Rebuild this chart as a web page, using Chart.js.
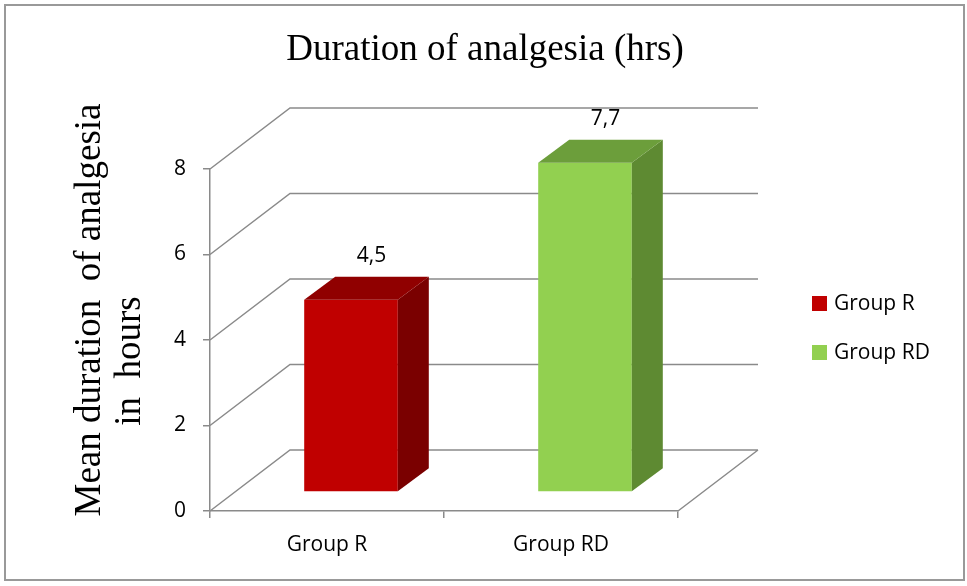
<!DOCTYPE html>
<html>
<head>
<meta charset="utf-8">
<script src="https://cdn.jsdelivr.net/npm/chart.js@4"></script>
<style>
  html, body { margin: 0; padding: 0; background: #fff; }
  #wrap { width: 967px; height: 586px; }
</style>
</head>
<body>
<div id="wrap"><canvas id="myChart"></canvas></div>
<script>
const categories = ['Group R', 'Group RD'];
const durations = [4.5, 7.7];
const tickValues = [0, 2, 4, 6, 8];

const frontColors = ['#C00000', '#92D050'];
const topColors = ['#900000', '#6C9E3B'];
const sideColors = ['#7A0000', '#5E8A32'];

// 3d offsets: full depth of the box, where the bar front sits, and bar depth
const wall = { dx: 80, dy: -61 };
const barShift = { dx: 24, dy: -19 };
const barDepth = { dx: 31, dy: -23 };
const lineGrey = '#8a8a8a';
const sansFont = "'Open Sans', sans-serif";
const serifFont = "'Liberation Serif', 'Times New Roman', serif";

const box3d = {
  id: 'box3d',
  beforeDatasetsDraw(chart) {
    const { ctx, chartArea: a, scales } = chart;
    const y = scales.y;
    ctx.save();
    ctx.strokeStyle = lineGrey;
    ctx.lineWidth = 1.5;
    ctx.beginPath();
    tickValues.forEach(v => {
      const py = y.getPixelForValue(v);
      ctx.moveTo(a.left, py);
      ctx.lineTo(a.left + wall.dx, py + wall.dy);
      ctx.lineTo(a.right + wall.dx, py + wall.dy);
    });
    // right edge of the floor
    ctx.moveTo(a.right, a.bottom);
    ctx.lineTo(a.right + wall.dx, a.bottom + wall.dy);
    ctx.stroke();
    ctx.restore();

    ctx.save();
    ctx.translate(barShift.dx, barShift.dy);
  },
  afterDatasetsDraw(chart) {
    const { ctx } = chart;
    ctx.restore();
    const meta = chart.getDatasetMeta(0);
    ctx.save();
    meta.data.forEach((bar, i) => {
      const l = bar.x - bar.width / 2 + barShift.dx;
      const r = bar.x + bar.width / 2 + barShift.dx;
      const t = bar.y + barShift.dy;
      const b = bar.base + barShift.dy;
      ctx.fillStyle = sideColors[i];
      ctx.beginPath();
      ctx.moveTo(r, t);
      ctx.lineTo(r + barDepth.dx, t + barDepth.dy);
      ctx.lineTo(r + barDepth.dx, b + barDepth.dy);
      ctx.lineTo(r, b);
      ctx.closePath();
      ctx.fill();
      ctx.fillStyle = topColors[i];
      ctx.beginPath();
      ctx.moveTo(l, t);
      ctx.lineTo(l + barDepth.dx, t + barDepth.dy);
      ctx.lineTo(r + barDepth.dx, t + barDepth.dy);
      ctx.lineTo(r, t);
      ctx.closePath();
      ctx.fill();
      // value label
      ctx.fillStyle = '#000';
      ctx.font = '21px ' + sansFont;
      ctx.textAlign = 'center';
      ctx.textBaseline = 'middle';
      ctx.fillText(String(durations[i]).replace('.', ','),
        bar.x + barShift.dx + barDepth.dx / 2 + 5, t + barDepth.dy - 21);
    });
    ctx.restore();
  },
  afterDraw(chart) {
    const { ctx } = chart;
    ctx.save();
    // title
    ctx.fillStyle = '#000';
    ctx.font = '37px ' + serifFont;
    ctx.textAlign = 'center';
    ctx.textBaseline = 'alphabetic';
    ctx.fillText('Duration of analgesia (hrs)', 485, 60);
    // legend
    ctx.font = '21px ' + sansFont;
    ctx.textBaseline = 'middle';
    ctx.textAlign = 'left';
    categories.forEach((c, i) => {
      const top = 296 + i * 49;
      ctx.fillStyle = frontColors[i];
      ctx.fillRect(812, top, 15, 15);
      ctx.fillStyle = '#000';
      ctx.fillText(c, 834, top + 8);
    });
    // y axis title, two lines
    ctx.font = '37px ' + serifFont;
    ctx.textAlign = 'center';
    ctx.textBaseline = 'middle';
    ctx.translate(90, 310);
    ctx.rotate(-Math.PI / 2);
    ctx.fillText('Mean duration  of analgesia', 0, 0);
    ctx.fillText('in  hours', -51, 40);
    ctx.restore();
    // chart frame
    ctx.save();
    ctx.strokeStyle = '#999';
    ctx.lineWidth = 2;
    ctx.strokeRect(5, 5, 959, 575);
    ctx.restore();
  }
};

const ctx = document.getElementById('myChart');

const myChart = new Chart(ctx, {
  type: 'bar',
  data: {
    labels: categories,
    datasets: [{
      data: durations,
      backgroundColor: frontColors,
      barPercentage: 0.4,
      categoryPercentage: 1,
      clip: false
    }]
  },
  options: {
    responsive: true,
    maintainAspectRatio: false,
    animation: false,
    layout: { padding: { top: 169, right: 289, bottom: 15, left: 0 } },
    plugins: {
      legend: { display: false },
      tooltip: { enabled: false },
      title: { display: false }
    },
    scales: {
      x: {
        grid: { display: true, drawOnChartArea: false, drawTicks: true, tickLength: 7, color: lineGrey, lineWidth: 1.5 },
        border: { display: true, color: lineGrey, width: 1.5 },
        ticks: { color: '#000', font: { family: sansFont, size: 21 }, padding: 14 },
        afterFit(scale) { scale.height = 60; }
      },
      y: {
        min: 0,
        max: 8,
        ticks: { stepSize: 2, color: '#000', font: { family: sansFont, size: 21 }, padding: 17 },
        grid: { display: true, drawOnChartArea: false, drawTicks: true, tickLength: 7, color: lineGrey, lineWidth: 1.5 },
        border: { display: true, color: lineGrey, width: 1.5 },
        afterFit(scale) { scale.width = 210; }
      }
    }
  },
  plugins: [box3d]
});
</script>
</body>
</html>
